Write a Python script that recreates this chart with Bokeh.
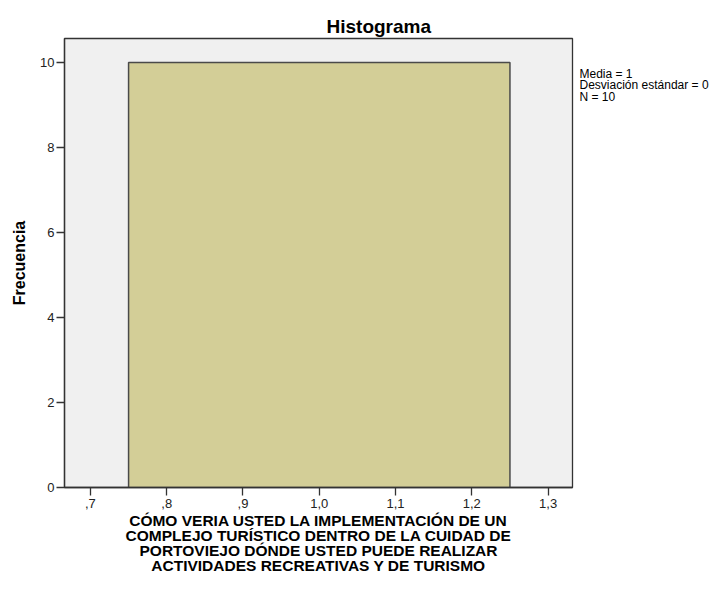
from bokeh.plotting import figure
from bokeh.models import Range1d, FixedTicker, LinearAxis
from bokeh.embed import file_html
from bokeh.resources import INLINE

# Data
bin_left = [0.75]
bin_right = [1.25]
counts = [10]
x_ticks = [0.7, 0.8, 0.9, 1.0, 1.1, 1.2, 1.3]
x_tick_labels = [",7", ",8", ",9", "1,0", "1,1", "1,2", "1,3"]
y_ticks = [0, 2, 4, 6, 8, 10]
title_text = "Histograma"
y_label = "Frecuencia"
x_label_lines = [
    "CÓMO VERIA USTED LA IMPLEMENTACIÓN DE UN",
    "COMPLEJO TURÍSTICO DENTRO DE LA CUIDAD DE",
    "PORTOVIEJO DÓNDE USTED PUEDE REALIZAR",
    "ACTIVIDADES RECREATIVAS Y DE TURISMO",
]
stats_lines = ["Media = 1", "Desviación estándar = 0", "N = 10"]
stats_pos = [9.74, 9.47, 9.20]

FONT = "Liberation Sans"

p = figure(width=711, height=578, output_backend="svg", toolbar_location=None,
           x_range=Range1d(0.666, 1.332), y_range=Range1d(0, 10.565),
           min_border_left=64, min_border_right=137, min_border_top=38, min_border_bottom=91)
p.background_fill_color = "#F0F0F0"
p.border_fill_color = "white"
p.outline_line_color = "#333333"
p.outline_line_width = 1.3
p.grid.visible = False

p.title.text = title_text
p.title.align = "left"
p.title.offset = 262
p.title.standoff = 4
p.title.text_font = FONT
p.title.text_font_size = "19px"
p.title.text_font_style = "bold"
p.title.text_color = "black"

p.quad(left=bin_left, right=bin_right, bottom=0, top=counts,
       fill_color="#D3CE97", line_color="#4a4a4a", line_width=1.5)

p.xaxis.ticker = FixedTicker(ticks=x_ticks)
p.xaxis.major_label_overrides = {t: l for t, l in zip(x_ticks, x_tick_labels)}
p.yaxis.ticker = FixedTicker(ticks=y_ticks)
for ax in (p.xaxis[0], p.yaxis[0]):
    ax.minor_tick_line_color = None
    ax.major_tick_in = 0
    ax.major_tick_out = 8
    ax.major_tick_line_color = "#333333"
    ax.major_tick_line_width = 1.3
    ax.axis_line_color = "#333333"
    ax.axis_line_width = 1.3
    ax.major_label_text_font = FONT
    ax.major_label_text_font_size = "13px"
    ax.major_label_text_color = "#222222"
    ax.axis_label_text_font = FONT
    ax.axis_label_text_font_style = "bold"
    ax.axis_label_text_color = "black"

p.xaxis.major_label_standoff = 3
p.yaxis.major_label_standoff = 2

p.yaxis.axis_label = y_label
p.yaxis.axis_label_text_font_size = "16px"
p.yaxis.axis_label_standoff = 9

p.xaxis.axis_label = "\n".join(x_label_lines)
p.xaxis.axis_label_text_font_size = "15.5px"
p.xaxis.axis_label_standoff = 1
p.xaxis.axis_label_text_line_height = 0.9

# Stats annotation as a right-side axis with text labels
stats_axis = LinearAxis(ticker=FixedTicker(ticks=stats_pos),
                        major_label_overrides={v: t for v, t in zip(stats_pos, stats_lines)})
stats_axis.axis_line_color = None
stats_axis.major_tick_line_color = None
stats_axis.minor_tick_line_color = None
stats_axis.major_tick_out = 0
stats_axis.major_label_standoff = 7
stats_axis.major_label_text_font = FONT
stats_axis.major_label_text_font_size = "12px"
stats_axis.major_label_text_color = "black"
p.add_layout(stats_axis, "right")

open("out.html", "w").write(file_html(p, INLINE))
